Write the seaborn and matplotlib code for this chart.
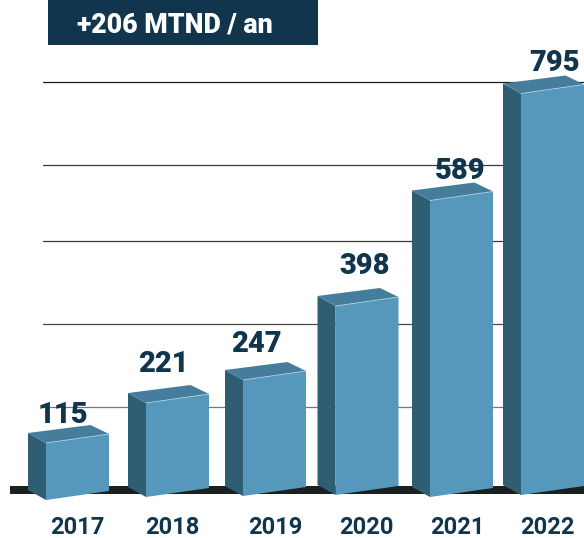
import matplotlib
matplotlib.use("Agg")
import matplotlib.pyplot as plt
from matplotlib.patches import Polygon, Rectangle
import pandas as pd
import seaborn as sns

# --- data ---
years = ["2017", "2018", "2019", "2020", "2021", "2022"]
values = [115, 221, 247, 398, 589, 795]
# the picture's bars are hand-drawn: front-face height
drawn_heights = [57, 94, 116, 189, 296.5, 401.5]
header = "+206 MTND / an"

# --- layout (pixels) ---
W, H = 584, 538
AX_BOTTOM_PX, BASE_PX = 505, 497
bar_centres = [77.5, 177.5, 274.5, 367, 461.5, 552.5]
base_shift = [-3, 0, 1, 2, 0, 2]
tick_centres = [77, 172, 275, 366, 457, 547]
label_x = [63, 163, 256, 365, 460, 555]
label_px = [415, 364, 344.5, 266, 171, 63]
grid_px = [82, 165, 241, 324, 407]
grid_col = ["#1c1c1c", "#3a3a3a", "#3a3a3a", "#4a4a4a", "#777777"]
BAR_W, SLANT, DX, DY, BACK_DX, BACK_DY = 63, 9, 18, 10, 44.5, 18

# --- style ---
NAVY = "#10354d"
FRONT, SIDE, TOP = "#5598bb", "#2f5d72", "#477d9c"
sns.set_theme(style="white")
plt.rcParams["font.family"] = ["Roboto", "DejaVu Sans"]

fig = plt.figure(figsize=(W / 100, H / 100), dpi=100, facecolor="white")
ax = fig.add_axes([0, (H - AX_BOTTOM_PX) / H, 1, AX_BOTTOM_PX / H])

df = pd.DataFrame({"x": bar_centres, "h": drawn_heights})
sns.barplot(df, x="x", y="h", native_scale=True, orient="x",
            width=BAR_W / 91, color=FRONT, saturation=1, ax=ax, zorder=3)
ax.set_xlim(0, W)
ax.set_ylim(BASE_PX - AX_BOTTOM_PX, BASE_PX)

for y, c in zip(grid_px, grid_col):
    ax.plot([43, W], [BASE_PX - y] * 2, color=c, lw=0.9, zorder=1)

# Turn each of the library's bars into the drawn 3-D block
for bar, shift in zip(list(ax.patches)[:len(years)], base_shift):
    x0, x1 = bar.get_x(), bar.get_x() + bar.get_width()
    top, bot = bar.get_height() + shift, shift
    bar.set_visible(False)
    front = [(x0, top), (x1, top + SLANT), (x1, bot + SLANT), (x0, bot)]
    side = [(x0 - DX, top + DY), (x0, top), (x0, bot), (x0 - DX, bot + DY)]
    lid = [(x0 - DX, top + DY), (x0, top), (x1, top + SLANT),
           (x0 + BACK_DX, top + BACK_DY)]
    ax.add_patch(Polygon(side, closed=True, fc=SIDE, ec="none", zorder=4))
    ax.add_patch(Polygon(lid, closed=True, fc=TOP, ec="none", zorder=4))
    ax.add_patch(Polygon(front, closed=True, fc=FRONT, ec="none", zorder=5))
    ax.plot([x0, x1], [top, top + SLANT], color="#a9cbdd", lw=0.6, zorder=6)

ax.add_patch(Rectangle((10, 3), W - 10, 8, color="#1a1f1f", lw=0, zorder=2))

for v, x, y in zip(values, label_x, label_px):
    ax.text(x, BASE_PX - y, str(v), ha="center", va="center", color=NAVY,
            fontsize=21, fontweight=900, zorder=7)

ax.set_xticks(tick_centres, years)
ax.tick_params(axis="x", length=0, pad=8, labelsize=17, labelcolor=NAVY)
for t in ax.get_xticklabels():
    t.set_fontweight("bold")
ax.set_yticks([])
ax.set_xlabel("")
ax.set_ylabel("")
for s in ax.spines.values():
    s.set_visible(False)
ax.patch.set_alpha(0)

ax.add_patch(Rectangle((48, BASE_PX - 45), 270, 45, fc=NAVY, ec="none", zorder=8))
ax.text(174.5, BASE_PX - 25, header, ha="center", va="center", color="white",
        fontsize=19.3, fontweight=900, zorder=9)

fig.savefig("out.png", dpi=100)
